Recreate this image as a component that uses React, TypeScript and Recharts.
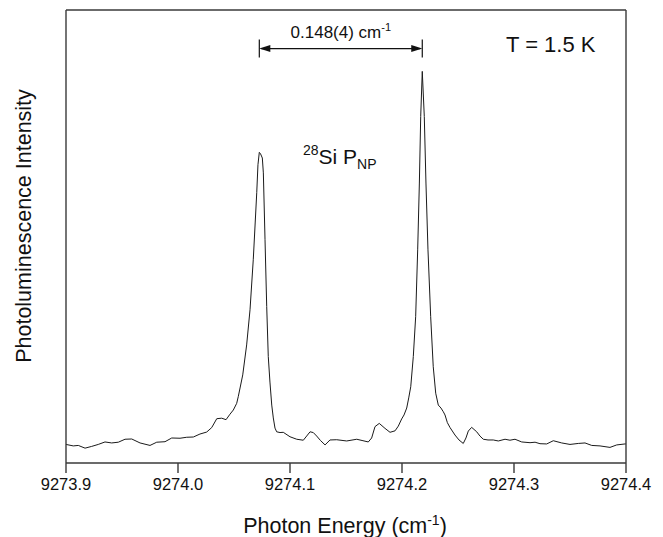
import React from 'react';
import { LineChart, Line, XAxis, YAxis, ReferenceLine } from 'recharts';

// photon energy (cm^-1)
const energy = [
  9273.9, 9273.9065, 9273.911, 9273.917, 9273.9229, 9273.9288, 9273.9348, 9273.9408, 9273.9467, 9273.9527,
  9273.9587, 9273.9661, 9273.975, 9273.981, 9273.9884, 9273.9944, 9274.0018, 9274.0078, 9274.0137, 9274.0196,
  9274.0256, 9274.0301, 9274.0346, 9274.039, 9274.0429, 9274.0464, 9274.0494, 9274.0524, 9274.0538, 9274.0554,
  9274.0578, 9274.0613, 9274.0643, 9274.0672, 9274.0703, 9274.0714, 9274.0726, 9274.0737, 9274.0753, 9274.0762,
  9274.0777, 9274.0792, 9274.0806, 9274.0821, 9274.0837, 9274.0851, 9274.0866, 9274.0881, 9274.0911, 9274.094,
  9274.1, 9274.106, 9274.1119, 9274.1149, 9274.1179, 9274.1208, 9274.1238, 9274.1272, 9274.1313, 9274.1357,
  9274.1417, 9274.1506, 9274.1596, 9274.1643, 9274.1699, 9274.1729, 9274.1759, 9274.1797, 9274.1848, 9274.1893,
  9274.1938, 9274.1967, 9274.1997, 9274.2018, 9274.2042, 9274.206, 9274.2078, 9274.2101, 9274.2122, 9274.214,
  9274.2155, 9274.2167, 9274.2181, 9274.2199, 9274.2214, 9274.2232, 9274.2256, 9274.2279, 9274.2301, 9274.2324,
  9274.2348, 9274.2369, 9274.2384, 9274.2405, 9274.2429, 9274.2473, 9274.2509, 9274.2547, 9274.2571, 9274.2592,
  9274.2622, 9274.2667, 9274.2696, 9274.2726, 9274.2768, 9274.2815, 9274.286, 9274.292, 9274.2964, 9274.3009,
  9274.3069, 9274.3143, 9274.3188, 9274.3232, 9274.3292, 9274.3351, 9274.3426, 9274.35, 9274.3574, 9274.3634,
  9274.3694, 9274.3768, 9274.3857, 9274.3917, 9274.3991, 9274.4,
];

// PL intensity (arb. units)
const intensity = [
  0.04, -0.02, 0.0, -0.11, -0.04, 0.04, 0.14, 0.1, 0.13, 0.25,
  0.26, 0.1, 0.0, 0.13, 0.15, 0.3, 0.29, 0.33, 0.34, 0.46,
  0.54, 0.72, 1.08, 1.1, 1.04, 1.26, 1.43, 1.7, 1.97, 2.32,
  2.85, 4.06, 5.48, 7.5, 10.21, 11.34, 11.84, 11.78, 11.61, 11.01,
  8.31, 5.61, 3.59, 2.56, 1.63, 1.11, 0.7, 0.55, 0.52, 0.53,
  0.35, 0.25, 0.21, 0.38, 0.55, 0.52, 0.38, 0.2, 0.02, 0.22,
  0.23, 0.18, 0.25, 0.2, 0.14, 0.3, 0.76, 0.89, 0.69, 0.53,
  0.59, 0.78, 1.07, 1.23, 1.51, 1.92, 2.37, 3.59, 5.2, 7.9,
  10.6, 13.29, 15.11, 13.29, 10.6, 7.9, 5.2, 3.18, 2.11, 1.63,
  1.51, 1.36, 1.23, 0.92, 0.72, 0.42, 0.22, 0.08, 0.3, 0.58,
  0.73, 0.55, 0.38, 0.25, 0.22, 0.22, 0.18, 0.25, 0.21, 0.25,
  0.14, 0.11, 0.13, 0.07, 0.06, 0.19, 0.1, 0.04, 0.08, 0.1,
  0.0, -0.02, -0.08, 0.02, 0.06, 0.06,
];

const xTicks = [9273.9, 9274.0, 9274.1, 9274.2, 9274.3, 9274.4];
const yTicks = [0, 1, 2, 3, 4, 5, 6, 7, 8, 9, 10, 11, 12, 13, 14, 15, 16, 17];
const arrowLevel = 16.03;

const data = energy.map((e, i) => ({ e, v: intensity[i] }));

// the two PNP peaks (used for the splitting arrow)
const peakAt = (lo: number, hi: number) => {
  let best = -1;
  data.forEach((d, i) => {
    if (d.e >= lo && d.e <= hi && (best < 0 || d.v > data[best].v)) best = i;
  });
  return data[best].e;
};
const peak1 = peakAt(9274.0, 9274.15);
const peak2 = peakAt(9274.15, 9274.3);

const font = '"Liberation Sans", Arial, sans-serif';
const axisColor = '#3a3a3a';

function SplitArrow(props: any) {
  const { x1, y1, x2 } = props;
  const y = y1;
  const h = 6;
  const w = 11;
  return (
    <g>
      <line x1={x1} y1={y - 9} x2={x1} y2={y + 9} stroke="#111" strokeWidth={1.2} />
      <line x1={x2} y1={y - 9} x2={x2} y2={y + 9} stroke="#111" strokeWidth={1.2} />
      <line x1={x1 + 2} y1={y} x2={x2 - 2} y2={y} stroke="#111" strokeWidth={1.2} />
      <polygon points={`${x1},${y} ${x1 + w},${y - h / 2 - 0.5} ${x1 + w},${y + h / 2 + 0.5}`} fill="#111" />
      <polygon points={`${x2},${y} ${x2 - w},${y - h / 2 - 0.5} ${x2 - w},${y + h / 2 + 0.5}`} fill="#111" />
      <text x={(x1 + x2) / 2} y={y - 11} textAnchor="middle" fontFamily={font} fontSize={17} fill="#111">
        0.148(4) cm
        <tspan fontSize={11} dy={-7}>-1</tspan>
      </text>
    </g>
  );
}

export default function App() {
  return (
    <div style={{ position: 'absolute', left: 0, top: 0, background: '#fff' }}>
      <LineChart
        width={663}
        height={537}
        data={data}
        margin={{ top: 9, right: 36, bottom: 73, left: 65 }}
      >
        <XAxis
          dataKey="e"
          type="number"
          domain={[9273.9, 9274.4]}
          ticks={xTicks}
          allowDataOverflow
          height={1}
          tickSize={10}
          tickMargin={5}
          tickFormatter={(v: number) => v.toFixed(1)}
          stroke={axisColor}
          strokeWidth={1.4}
          tick={{ fill: '#111', fontSize: 16.5, fontFamily: font }}
        />
        <XAxis
          xAxisId="top"
          orientation="top"
          type="number"
          domain={[9273.9, 9274.4]}
          ticks={xTicks}
          allowDataOverflow
          height={1}
          tickSize={-4}
          tick={false}
          stroke={axisColor}
          strokeWidth={1.4}
        />
        <YAxis
          type="number"
          domain={[-0.71, 17.59]}
          ticks={yTicks}
          allowDataOverflow
          width={1}
          tickSize={-3}
          tick={false}
          stroke={axisColor}
          strokeWidth={1.4}
        />
        <YAxis
          yAxisId="right"
          orientation="right"
          type="number"
          domain={[-0.71, 17.59]}
          ticks={yTicks}
          allowDataOverflow
          width={1}
          tickSize={-3}
          tick={false}
          stroke={axisColor}
          strokeWidth={1.4}
        />
        <Line
          type="linear"
          dataKey="v"
          stroke="#1a1a1a"
          strokeWidth={1}
          dot={false}
          isAnimationActive={false}
        />
        <ReferenceLine
          segment={[
            { x: peak1, y: arrowLevel },
            { x: peak2, y: arrowLevel },
          ]}
          shape={SplitArrow}
        />
        <text x={506} y={52} fontFamily={font} fontSize={22} fill="#111">
          T = 1.5 K
        </text>
        <text x={303} y={164} fontFamily={font} fontSize={21} fill="#111">
          <tspan fontSize={14} dy={-9}>28</tspan>
          <tspan dy={9}>Si P</tspan>
          <tspan fontSize={14} dy={5}>NP</tspan>
        </text>
        <text x={345} y={533} textAnchor="middle" fontFamily={font} fontSize={21.5} fill="#111">
          Photon Energy (cm
          <tspan fontSize={14} dy={-8}>-1</tspan>
          <tspan dy={8}>)</tspan>
        </text>
        <text
          transform="translate(31, 226) rotate(-90)"
          textAnchor="middle"
          fontFamily={font}
          fontSize={21.5}
          fill="#111"
        >
          Photoluminescence Intensity
        </text>
      </LineChart>
    </div>
  );
}
